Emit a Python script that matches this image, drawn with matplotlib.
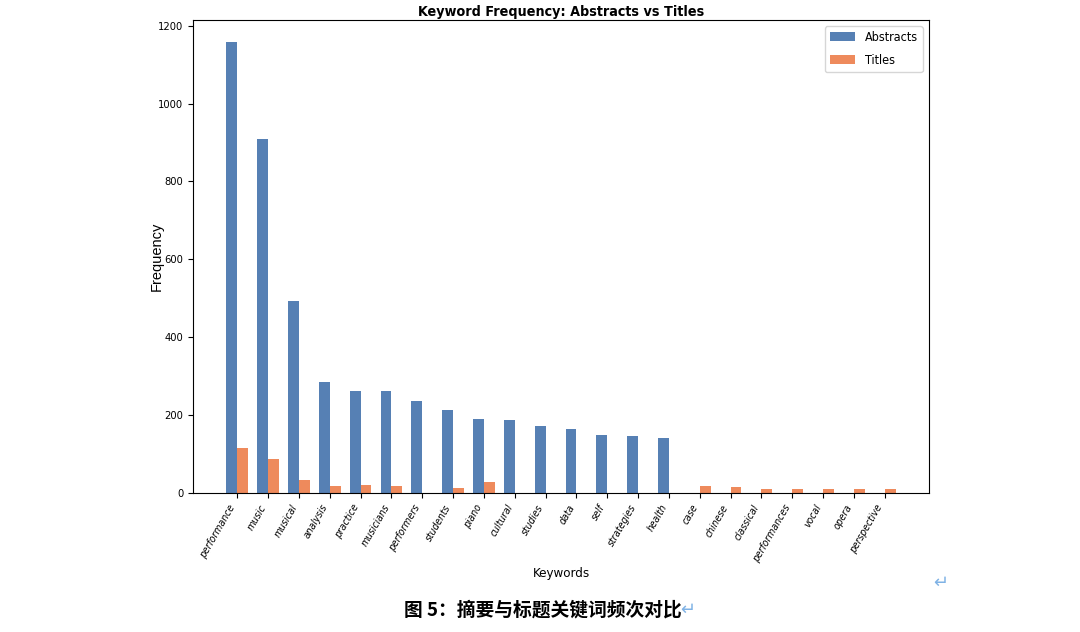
import numpy as np
import matplotlib
matplotlib.use("Agg")
import matplotlib.pyplot as plt

keywords = ["performance", "music", "musical", "analysis", "practice", "musicians",
            "performers", "students", "piano", "cultural", "studies", "data", "self",
            "strategies", "health", "case", "chinese", "classical", "performances",
            "vocal", "opera", "perspective"]
abstracts = [1157, 910, 493, 285, 262, 261, 236, 213, 189, 187, 171, 163, 148,
             146, 140, 0, 0, 0, 0, 0, 0, 0]
titles = [116, 87, 33, 18, 20, 18, 0, 14, 27, 0, 0, 0, 0,
          0, 0, 17, 15, 10, 10, 10, 10, 10]

narrow = {"family": "DejaVu Sans", "stretch": "condensed"}
cjk = ["Noto Sans CJK SC", "DejaVu Sans"]

fig = plt.figure(figsize=(10.8, 6.32), dpi=100)
ax = fig.add_axes([0.1787, 0.22, 0.6815, 0.7484])

x = np.arange(len(keywords))
w = 0.35
ax.bar(x - w / 2, abstracts, w, color="#5680b4", label="Abstracts")
ax.bar(x + w / 2, titles, w, color="#ee8a5c", label="Titles")

ax.set_xticks(x)
ax.set_xticklabels(keywords, rotation=60, ha="right",
                   fontstyle="italic", fontsize=7.5, **narrow)
for lab in ax.get_yticklabels():
    lab.set_family(narrow["family"])
    lab.set_stretch(narrow["stretch"])
    lab.set_fontsize(8)

ax.set_title("Keyword Frequency: Abstracts vs Titles", fontweight="bold",
             fontsize=10.3, pad=3, **narrow)
ax.set_xlabel("Keywords", fontsize=9.5, **narrow)
ax.xaxis.set_label_coords(0.5, -0.157)
ax.set_ylabel("Frequency", family=["Liberation Sans", "DejaVu Sans"], fontsize=10.5)
ax.yaxis.set_label_coords(-0.04, 0.5)
ax.legend(loc="upper right", labelspacing=0.8,
          prop={"family": "DejaVu Sans", "stretch": "condensed", "size": 9})

fig.text(0.503, 0.035, "图 5：摘要与标题关键词频次对比", family=cjk,
         fontweight="bold", fontsize=13.5, ha="center", va="center")
fig.text(0.637, 0.035, "↵", family=cjk, color="#7fb2e5", fontsize=13,
         ha="center", va="center")
fig.text(0.871, 0.077, "↵", family=cjk, color="#7fb2e5", fontsize=13,
         ha="center", va="center")

fig.savefig("out.png", dpi=100)
